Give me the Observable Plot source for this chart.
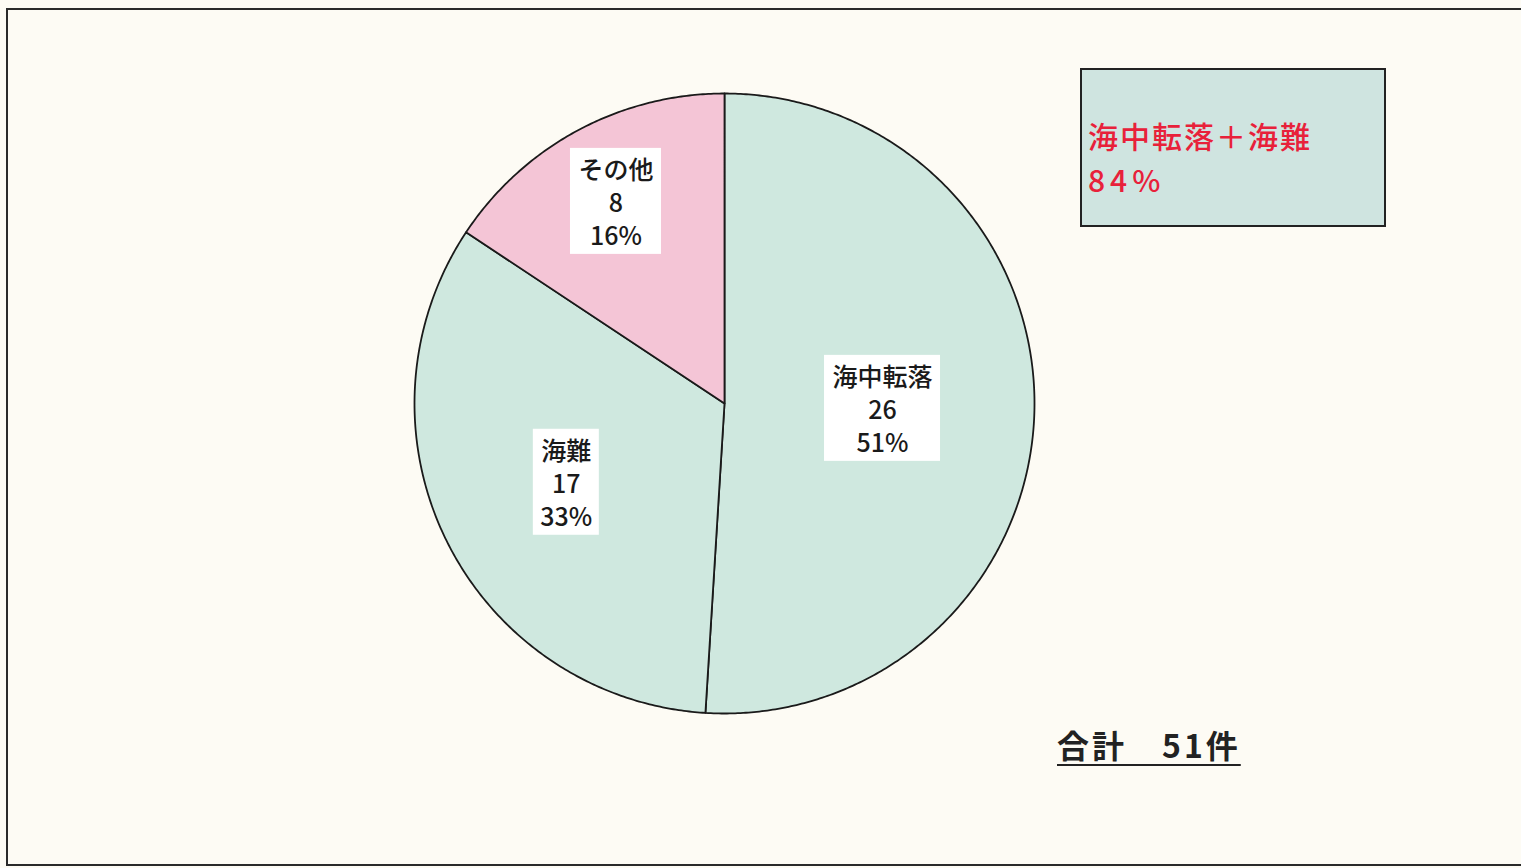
<!DOCTYPE html>
<html>
<head>
<meta charset="utf-8">
<script src="https://cdn.jsdelivr.net/npm/d3@7"></script>
<script src="https://cdn.jsdelivr.net/npm/@observablehq/plot@0.6"></script>
<style>
  html, body { margin: 0; padding: 0; background: #fdfbf4; }
  #page { position: relative; width: 1521px; height: 868px; overflow: hidden; background: #fdfbf4;
          font-family: "Noto Sans CJK JP", "Noto Sans", sans-serif; }
  #frame { position: absolute; left: 6px; top: 8px; width: 1540px; height: 858px;
           box-sizing: border-box; border: 2px solid #2a2a2a; }
  #chart { position: absolute; left: 0; top: 0; }
  #legend { position: absolute; left: 1080px; top: 68px; width: 306px; height: 159px;
            box-sizing: border-box; border: 2px solid #222; background: #cfe4e0; }
  .legendLine { position: absolute; left: 1088px; color: #e8213a; font-size: 30px;
                line-height: 44px; white-space: pre; font-weight: 500; }
  #legendTitle { top: 113px; letter-spacing: 2px; }
  #legendValue { top: 157px; letter-spacing: 5px; }
  #total { position: absolute; left: 1057px; top: 724px; font-size: 32px; font-weight: bold;
           line-height: 40px; color: #222; text-decoration: underline; text-decoration-thickness: 2px;
           text-underline-offset: 6px; white-space: pre; letter-spacing: 3px; }
</style>
</head>
<body>
<div id="page">
  <div id="frame"></div>
  <div id="chart"></div>
  <div id="legend"></div>
  <div id="legendTitle" class="legendLine"></div>
  <div id="legendValue" class="legendLine"></div>
  <div id="total"></div>
</div>
<script>
// ---- data ----
const categories = ["海中転落", "海難", "その他"];
const counts = [26, 17, 8];
const percentLabels = ["51%", "33%", "16%"];
const sliceColors = ["#cfe8df", "#cfe8df", "#f4c5d6"];
const legendTitle = "海中転落＋海難";
const legendValue = "84%";
const totalLabel = "合計　51件";

// ---- layout ----
const W = 1521, H = 868;
const mL = 414, mR = 487, mT = 93, mB = 155;
const pxPerUnit = (W - mL - mR) / 2;
const fontSize = 25;

const total = d3.sum(counts);
let cum = 0;
const wedgePts = [];
const labels = [];
categories.forEach((cat, i) => {
  const a0 = cum / total * 2 * Math.PI;
  cum += counts[i];
  const a1 = cum / total * 2 * Math.PI;
  wedgePts.push({cat, x: 0, y: 0});
  const n = Math.max(2, Math.ceil((a1 - a0) / (Math.PI / 360)));
  for (let k = 0; k <= n; k++) {
    const a = a0 + (a1 - a0) * k / n;
    wedgePts.push({cat, x: Math.sin(a), y: Math.cos(a)});
  }
  wedgePts.push({cat, x: 0, y: 0});
  const frac = counts[i] / total;
  const r = frac > 0.5 ? 0.51 : frac > 0.25 ? 0.57 : 0.74;
  const am = (a0 + a1) / 2;
  const lx = r * Math.sin(am), ly = r * Math.cos(am);
  const maxLen = Math.max(cat.length, 2);
  const hw = (maxLen * fontSize + 16) / 2 / pxPerUnit;
  const hh = 106 / 2 / pxPerUnit;
  labels.push({cat, x: lx, y: ly, x1: lx - hw, x2: lx + hw, y1: ly - hh, y2: ly + hh,
               text: `${cat}\n${counts[i]}\n${percentLabels[i]}`});
});

const chart = Plot.plot({
  width: W, height: H,
  marginLeft: mL, marginRight: mR, marginTop: mT, marginBottom: mB,
  x: {domain: [-1, 1], axis: null},
  y: {domain: [-1, 1], axis: null},
  color: {domain: categories, range: sliceColors},
  style: {background: "transparent", fontFamily: "'Noto Sans CJK JP', sans-serif"},
  marks: [
    Plot.line(wedgePts, {x: "x", y: "y", z: "cat", fill: "cat", stroke: "#1a1a1a", strokeWidth: 1.8, curve: "linear"}),
    Plot.rect(labels, {x1: "x1", x2: "x2", y1: "y1", y2: "y2", fill: "white"}),
    Plot.text(labels, {x: "x", y: "y", text: "text", fontSize: fontSize, lineHeight: 1.32,
                       fontWeight: 500, fill: "#1a1a1a", lineAnchor: "middle"})
  ]
});
document.getElementById("chart").appendChild(chart);
document.getElementById("legendTitle").textContent = legendTitle;
document.getElementById("legendValue").textContent = legendValue;
document.getElementById("total").textContent = totalLabel;
</script>
</body>
</html>
